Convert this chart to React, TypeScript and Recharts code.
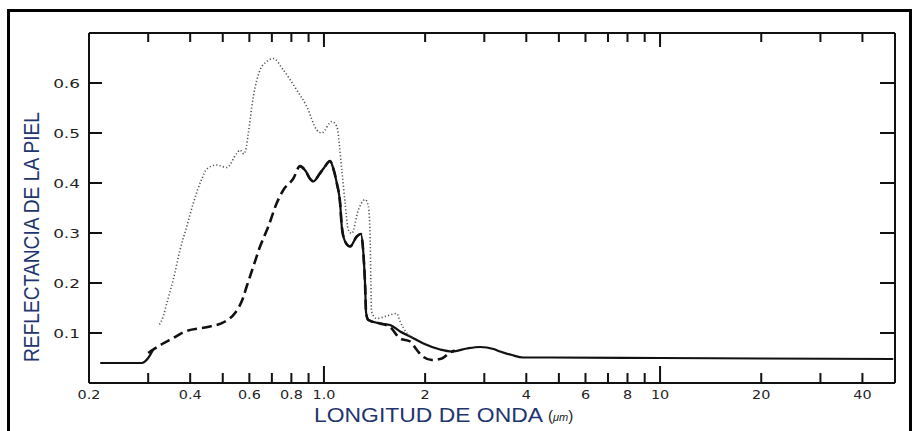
import React from 'react';
import { LineChart, Line, XAxis, YAxis } from 'recharts';

// ---- data (wavelength in µm, reflectance) ----
const dottedX = [0.324, 0.333, 0.3405, 0.3484, 0.3563, 0.373, 0.3907, 0.4088, 0.4329, 0.448, 0.48, 0.514, 0.55, 0.563, 0.578, 0.5865, 0.5956, 0.6166, 0.6456, 0.676, 0.707, 0.757, 0.83, 0.889, 0.952, 0.985, 1.055, 1.092, 1.13, 1.156, 1.182, 1.21, 1.266, 1.326, 1.356, 1.372, 1.379, 1.385, 1.436, 1.538, 1.647, 1.685, 1.764, 1.85];
const dottedY = [0.117, 0.134, 0.159, 0.183, 0.207, 0.266, 0.313, 0.36, 0.408, 0.428, 0.436, 0.431, 0.459, 0.466, 0.458, 0.469, 0.499, 0.573, 0.626, 0.643, 0.649, 0.626, 0.586, 0.553, 0.506, 0.5, 0.523, 0.513, 0.426, 0.36, 0.306, 0.299, 0.346, 0.367, 0.353, 0.293, 0.206, 0.143, 0.129, 0.134, 0.139, 0.123, 0.1, 0.09];

const dashedX = [0.3, 0.33, 0.3563, 0.386, 0.4583, 0.508, 0.5439, 0.5745, 0.589, 0.6166, 0.6456, 0.6834, 0.7238, 0.7574, 0.811, 0.849, 0.88, 0.91, 0.93, 0.97, 1.0, 1.043, 1.065, 1.092, 1.117, 1.13, 1.156, 1.196, 1.252, 1.287, 1.31, 1.325, 1.335, 1.356, 1.469, 1.573, 1.685, 1.805, 1.89, 1.977, 2.094, 2.242, 2.374, 2.45];
const dashedY = [0.06, 0.078, 0.09, 0.103, 0.113, 0.123, 0.14, 0.17, 0.193, 0.233, 0.273, 0.313, 0.36, 0.386, 0.409, 0.434, 0.425, 0.408, 0.403, 0.418, 0.43, 0.444, 0.43, 0.4, 0.36, 0.313, 0.283, 0.273, 0.293, 0.298, 0.26, 0.2, 0.14, 0.126, 0.119, 0.112, 0.089, 0.083, 0.066, 0.052, 0.046, 0.049, 0.061, 0.065];

const solidX = [0.216, 0.287, 0.3, 0.31, 0.5, 0.849, 0.88, 0.91, 0.93, 0.97, 1.0, 1.043, 1.065, 1.092, 1.117, 1.13, 1.156, 1.196, 1.252, 1.287, 1.31, 1.325, 1.335, 1.356, 1.469, 1.573, 1.685, 1.805, 1.977, 2.216, 2.402, 2.662, 2.915, 3.194, 3.344, 3.621, 3.915, 4.71, 10, 20, 49.4];
const solidY = [0.04, 0.04, 0.05, 0.066, null, 0.434, 0.425, 0.408, 0.403, 0.418, 0.43, 0.444, 0.43, 0.4, 0.36, 0.313, 0.283, 0.273, 0.293, 0.298, 0.26, 0.2, 0.14, 0.126, 0.119, 0.116, 0.103, 0.093, 0.079, 0.067, 0.063, 0.069, 0.072, 0.068, 0.063, 0.056, 0.051, 0.051, 0.05, 0.049, 0.048];

const xTicks = [0.2, 0.3, 0.4, 0.5, 0.6, 0.7, 0.8, 0.9, 1, 2, 3, 4, 5, 6, 7, 8, 9, 10, 20, 30, 40];
const xLabelValues = [0.2, 0.4, 0.6, 0.8, 1, 2, 4, 6, 8, 10, 20, 40];
const xLabelTexts = ['0.2', '0.4', '0.6', '0.8', '1.0', '2', '4', '6', '8', '10', '20', '40'];
const longXTicks = [1, 10];
const yTicks = [0.1, 0.2, 0.3, 0.4, 0.5, 0.6];
const yLabelTexts = ['0.1', '0.2', '0.3', '0.4', '0.5', '0.6'];

const xTitle = 'LONGITUD DE ONDA';
const xUnit = 'μm';
const yTitle = 'REFLECTANCIA DE LA PIEL';

// ---- build series ----
const toPoints = (xs: number[], ys: (number | null)[]) => xs.map((x, i) => ({ x, y: ys[i] }));
const dottedData = toPoints(dottedX, dottedY);
const dashedData = toPoints(dashedX, dashedY);
const solidData = toPoints(solidX, solidY);

// ---- layout ----
const W = 912;
const H = 431;
const PLOT_LEFT = 89;
const PLOT_RIGHT = 895;
const PLOT_TOP = 33;
const PLOT_BOTTOM = 383;
const INK = '#111';
const TITLE_COLOR = '#1f3570';
const TICK_FONT = 'DejaVu Sans, Verdana, sans-serif';

const labelFor = (v: number) => {
  const i = xLabelValues.indexOf(v);
  return i >= 0 ? xLabelTexts[i] : null;
};

const BottomTick = (props: any) => {
  const { x, payload } = props;
  const v = payload.value;
  const len = longXTicks.includes(v) ? 17 : 10;
  const label = labelFor(v);
  return (
    <g>
      {v !== xTicks[0] && (
        <line x1={x} x2={x} y1={PLOT_BOTTOM} y2={PLOT_BOTTOM - len} stroke={INK} strokeWidth={2} />
      )}
      {label && (
        <text
          transform={`translate(${x},${PLOT_BOTTOM + 16}) scale(1.2,1)`}
          textAnchor="middle"
          fontFamily={TICK_FONT}
          fontSize={12}
          fill="#222"
        >
          {label}
        </text>
      )}
    </g>
  );
};

const TopTick = (props: any) => {
  const { x, payload } = props;
  const v = payload.value;
  if (v === xTicks[0]) return <g />;
  const len = longXTicks.includes(v) ? 14 : 9;
  return <line x1={x} x2={x} y1={PLOT_TOP} y2={PLOT_TOP + len} stroke={INK} strokeWidth={2} />;
};

const LeftTick = (props: any) => {
  const { y, payload } = props;
  const i = yTicks.indexOf(payload.value);
  return (
    <g>
      <line x1={PLOT_LEFT} x2={PLOT_LEFT + 13} y1={y} y2={y} stroke={INK} strokeWidth={2} />
      <text
        transform={`translate(${PLOT_LEFT - 9},${y + 5}) scale(1.3,1)`}
        textAnchor="end"
        fontFamily={TICK_FONT}
        fontSize={13}
        fill="#222"
      >
        {yLabelTexts[i]}
      </text>
    </g>
  );
};

const RightTick = (props: any) => {
  const { y } = props;
  return <line x1={PLOT_RIGHT} x2={PLOT_RIGHT - 15} y1={y} y2={y} stroke={INK} strokeWidth={2} />;
};

const XTitle = () => (
  <g>
    <text
      x={314}
      y={422}
      textLength={229}
      lengthAdjust="spacingAndGlyphs"
      fontFamily="Liberation Sans Narrow, Liberation Sans, Arial, sans-serif"
      fontSize={20}
      fill={TITLE_COLOR}
    >
      {xTitle}
    </text>
    <text x={548} y={421} fontFamily="Liberation Sans, Arial, sans-serif" fill="#222">
      <tspan fontSize={15}>(</tspan>
      <tspan fontSize={11} fontStyle="italic">{xUnit}</tspan>
      <tspan fontSize={15}>)</tspan>
    </text>
  </g>
);

const YTitle = () => (
  <text
    transform="translate(39,237) rotate(-90)"
    textAnchor="middle"
    textLength={250}
    lengthAdjust="spacingAndGlyphs"
    fontFamily="Liberation Sans Narrow, Liberation Sans, Arial, sans-serif"
    fontSize={22}
    fill={TITLE_COLOR}
  >
    {yTitle}
  </text>
);

export default function App() {
  return (
    <div style={{ position: 'fixed', left: 0, top: 0, width: W, height: H, background: '#fff', overflow: 'hidden' }}>
      <div
        style={{
          position: 'absolute',
          left: 7,
          top: 9,
          width: 905,
          height: 440,
          boxSizing: 'border-box',
          border: '3px solid #000',
        }}
      />
      <div style={{ position: 'absolute', left: 0, top: 0 }}>
        <LineChart width={W} height={H} margin={{ top: PLOT_TOP - 1, right: W - PLOT_RIGHT - 1, bottom: 0, left: 0 }}>
          <XAxis
            dataKey="x"
            type="number"
            scale="log"
            domain={[0.2, 50]}
            allowDataOverflow
            ticks={xTicks}
            interval={0}
            height={H - PLOT_BOTTOM}
            tickLine={false}
            tickSize={0}
            tickMargin={0}
            axisLine={{ stroke: INK, strokeWidth: 2 }}
            tick={<BottomTick />}
            label={<XTitle />}
          />
          <XAxis
            xAxisId="top"
            orientation="top"
            dataKey="x"
            type="number"
            scale="log"
            domain={[0.2, 50]}
            allowDataOverflow
            ticks={xTicks}
            interval={0}
            height={1}
            tickLine={false}
            tickSize={0}
            tickMargin={0}
            axisLine={{ stroke: INK, strokeWidth: 2 }}
            tick={<TopTick />}
          />
          <YAxis
            type="number"
            domain={[0, 0.7]}
            allowDataOverflow
            ticks={yTicks}
            interval={0}
            width={PLOT_LEFT}
            tickLine={false}
            tickSize={0}
            tickMargin={0}
            axisLine={{ stroke: INK, strokeWidth: 2 }}
            tick={<LeftTick />}
            label={<YTitle />}
          />
          <YAxis
            yAxisId="right"
            orientation="right"
            type="number"
            domain={[0, 0.7]}
            allowDataOverflow
            ticks={yTicks}
            interval={0}
            width={1}
            tickLine={false}
            tickSize={0}
            tickMargin={0}
            axisLine={{ stroke: INK, strokeWidth: 2 }}
            tick={<RightTick />}
          />
          <Line
            data={solidData}
            dataKey="y"
            type="monotone"
            stroke={INK}
            strokeWidth={2.2}
            dot={false}
            connectNulls={false}
            isAnimationActive={false}
          />
          <Line
            data={dashedData}
            dataKey="y"
            type="monotone"
            stroke={INK}
            strokeWidth={2.6}
            strokeDasharray="10 5"
            dot={false}
            isAnimationActive={false}
          />
          <Line
            data={dottedData}
            dataKey="y"
            type="monotone"
            stroke="#555"
            strokeWidth={1.6}
            strokeDasharray="1.2 2.2"
            dot={false}
            isAnimationActive={false}
          />
        </LineChart>
      </div>
    </div>
  );
}
